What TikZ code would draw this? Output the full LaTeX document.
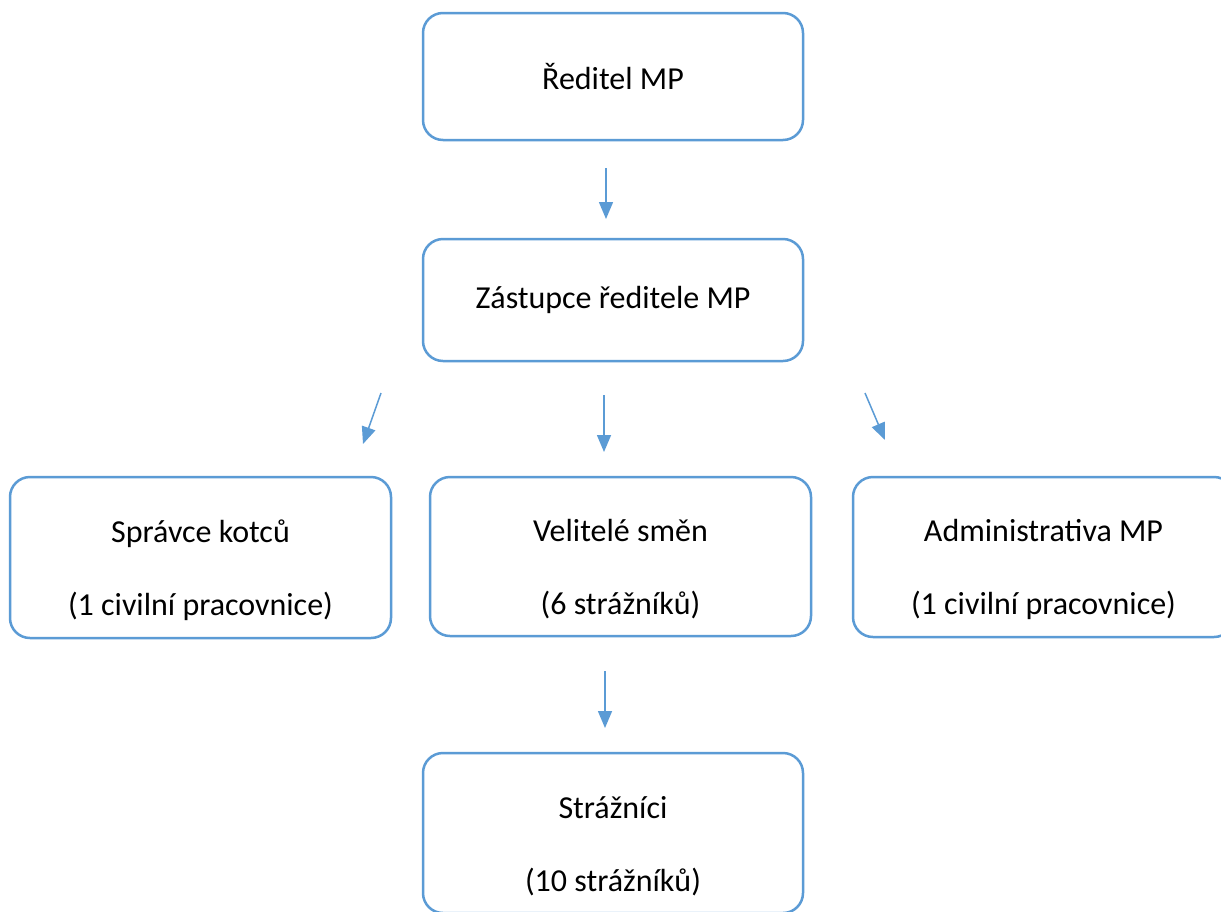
\documentclass[tikz,border=0pt]{standalone}
\usepackage{fontspec}
\setmainfont{Carlito}
\usetikzlibrary{arrows.meta}
\definecolor{mpblue}{HTML}{5B9BD5}
\newcommand{\toppad}{\rule{0pt}{48pt}}
\tikzset{
  box/.style={draw=mpblue, line width=2.5pt, rounded corners=20pt,
    minimum width=380pt, minimum height=#1, align=center,
    font=\fontsize{32}{73}\selectfont},
  box/.default=160pt,
  arr/.style={draw=mpblue, line width=1.5pt, -{Triangle[length=17pt,width=14pt]}}
}
\begin{document}
\begin{tikzpicture}[x=1pt,y=-1pt]
      \clip (0,0) rectangle (1221,911);
      \fill[white] (0,0) rectangle (1221,911);
      \node[box=127pt] (reditel) at (613,76.5) {Ředitel MP};
      \node[box=122pt] (zastupce) at (613,300) {Zástupce ředitele MP};
      \node[box=161pt, minimum width=381pt] (spravce) at (200.5,557.5)
        {\toppad Správce kotců\\(1 civilní pracovnice)};
      \node[box=159pt, minimum width=381pt] (velitele) at (620.5,556.5)
        {\toppad Velitelé směn\\(6 strážníků)};
      \node[box, minimum width=381pt] (admin) at (1043.5,557)
        {\toppad Administrativa MP\\(1 civilní pracovnice)};
      \node[box] (straznici) at (613,833) {\toppad Strážníci\\(10 strážníků)};
      % free standing arrows
      \coordinate (r1) at (606,168);  \coordinate (r2) at (606,219);
      \coordinate (s1) at (381,393);  \coordinate (s2) at (363,444);
      \coordinate (v1) at (604,395);  \coordinate (v2) at (604,452);
      \coordinate (a1) at (865,393);  \coordinate (a2) at (885,440);
      \coordinate (z1) at (605,671);  \coordinate (z2) at (605,728);
      \begin{scope}[arr]
        \draw (r1) to (r2);
        \draw (s1) to (s2);
        \draw (v1) to (v2);
        \draw (a1) to (a2);
        \draw (z1) to (z2);
      \end{scope}
    \end{tikzpicture}
\end{document}
